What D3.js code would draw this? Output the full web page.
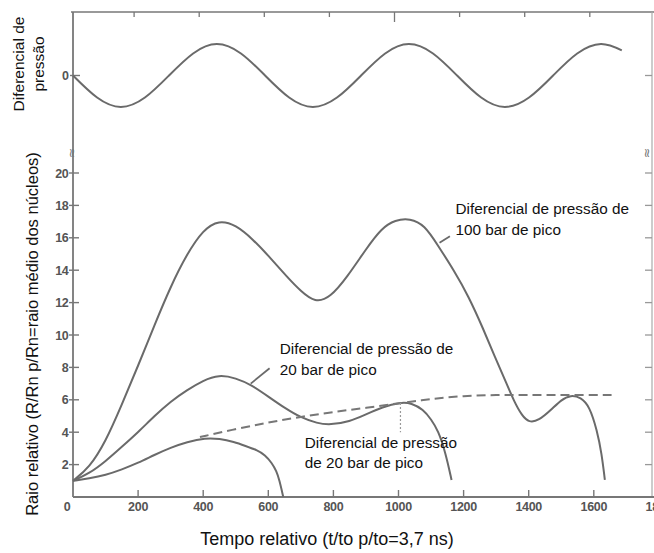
<!DOCTYPE html>
<html><head><meta charset="utf-8">
<script src="https://cdn.jsdelivr.net/npm/d3@7"></script>
<style>body{margin:0;background:#fff}svg{display:block}</style>
</head><body>
<svg id="c" width="654" height="553"></svg>
<script>
// ---- data ----
const pressT   = [0,74,147,221,295,369,442,516,590,664,737,811,885,959,1032,1106,1180,1254,1327,1401,1475,1549,1622,1686];
const pressV   = [0,-0.7,-1,-0.7,0,0.7,1,0.7,0,-0.7,-1,-0.7,0,0.7,1,0.7,0,-0.7,-1,-0.7,0,0.7,1,0.8];

const a100T = [0,50,100,150,200,250,300,350,400,448,500,553,600,657,700,744,790,843,900,948,990,1035,1080,1122,1170,1215,1260,1297,1330,1355,1380,1401,1430,1470,1500,1529,1560,1587,1610,1624,1634];
const a100V = [1,1.8,3.4,5.7,8.1,10.6,13.0,15.0,16.5,17.1,16.8,15.9,14.9,13.6,12.7,12.0,12.3,13.6,15.3,16.6,17.1,17.2,16.8,15.5,14.0,12.4,10.4,8.6,7.1,5.9,5.0,4.6,4.7,5.4,6.0,6.3,6.15,5.6,4.1,2.7,1.05];

const b20T = [0,50,100,150,200,250,300,350,400,448,500,550,600,650,700,750,790,850,900,950,1006,1040,1076,1100,1122,1145,1163];
const b20V = [1,1.45,2.2,3.1,4.0,5.0,5.9,6.6,7.2,7.55,7.35,6.9,6.2,5.5,4.9,4.55,4.45,4.65,5.1,5.55,5.85,5.8,5.4,4.8,4.1,2.7,1.05];

const c20T = [0,50,100,150,200,250,300,350,407,450,495,530,565,590,611,625,634,646];
const c20V = [1,1.15,1.35,1.7,2.1,2.6,3.05,3.4,3.65,3.6,3.4,3.15,2.9,2.6,2.1,1.6,1.05,0];

const dashT = [390,500,600,700,800,900,1006,1100,1200,1300,1400,1500,1657];
const dashV = [3.7,4.2,4.6,4.95,5.25,5.5,5.8,6.05,6.25,6.3,6.3,6.3,6.3];

const xTicks = [0,200,400,600,800,1000,1200,1400,1600,1800];
const yTicks = [2,4,6,8,10,12,14,16,18,20];

const labelA = ["Diferencial de pressão de","100 bar de pico"];
const labelB = ["Diferencial de pressão de","20 bar de pico"];
const labelC = ["Diferencial de pressão","de 20 bar de pico"];

// ---- drawing ----
const svg = d3.select("#c");
const L = 73, R = 652, TOP = 12, BOT = 497;
const x = d3.scaleLinear().domain([0,1800]).range([L, L + 1800*0.3255]);
const y = d3.scaleLinear().domain([0,20]).range([BOT, BOT - 20*16.2]);
const yp = d3.scaleLinear().domain([-1,1]).range([107,44]);

const axisCol = "#777", curveCol = "#6a6a6a";
const FONT = "Liberation Sans, Arial, sans-serif";
const g = svg.append("g");

// frame lines
g.append("line").attr("x1",L-2).attr("x2",654).attr("y1",TOP).attr("y2",TOP).attr("stroke",axisCol).attr("stroke-width",1.6);
g.append("line").attr("x1",L).attr("x2",L).attr("y1",TOP).attr("y2",BOT).attr("stroke",axisCol).attr("stroke-width",1.8);
g.append("line").attr("x1",R).attr("x2",R).attr("y1",TOP).attr("y2",BOT).attr("stroke","#aaa").attr("stroke-width",1.2);
g.append("line").attr("x1",L).attr("x2",654).attr("y1",BOT).attr("y2",BOT).attr("stroke",axisCol).attr("stroke-width",1.8);

// bottom axis ticks (inward) + labels
g.selectAll(".xt").data(xTicks.filter(d=>d>0)).join("line")
  .attr("x1",d=>x(d)).attr("x2",d=>x(d)).attr("y1",BOT).attr("y2",BOT-7)
  .attr("stroke",axisCol).attr("stroke-width",1.4);
g.selectAll(".xl").data(xTicks).join("text")
  .attr("x",d=>d===0? L-6 : x(d)).attr("y",BOT+14)
  .attr("text-anchor","middle").attr("font-family",FONT)
  .attr("font-size",12.5).attr("fill","#555").attr("font-weight","bold").attr("letter-spacing",-0.3)
  .text(d=>d);

// top axis ticks
g.selectAll(".tt").data(xTicks.filter(d=>d>0&&d<1800)).join("line")
  .attr("x1",d=>x(d)-4).attr("x2",d=>x(d)-4).attr("y1",TOP).attr("y2",d=>d===1000?TOP+10:TOP+5)
  .attr("stroke",axisCol).attr("stroke-width",1.3);

// left y ticks + labels
g.selectAll(".yt").data(yTicks).join("line")
  .attr("x1",L-4).attr("x2",L+6).attr("y1",d=>y(d)).attr("y2",d=>y(d))
  .attr("stroke",axisCol).attr("stroke-width",1.4);
g.selectAll(".yl").data(yTicks).join("text")
  .attr("x",L-5).attr("y",d=>y(d)+4.5).attr("text-anchor","end")
  .attr("font-family",FONT).attr("font-size",12.5)
  .attr("fill","#555").attr("font-weight","bold").attr("letter-spacing",-0.6)
  .text(d=>d);
// right y ticks
g.selectAll(".rt").data(yTicks).join("line")
  .attr("x1",R-7).attr("x2",R).attr("y1",d=>y(d)).attr("y2",d=>y(d))
  .attr("stroke","#999").attr("stroke-width",1.3);
g.append("line").attr("x1",R-7).attr("x2",R).attr("y1",yp(0)).attr("y2",yp(0)).attr("stroke","#999").attr("stroke-width",1.3);

// top panel zero tick & label
g.append("line").attr("x1",L-3).attr("x2",L+7).attr("y1",yp(0)).attr("y2",yp(0)).attr("stroke",axisCol).attr("stroke-width",1.4);
g.append("text").attr("x",L-4).attr("y",yp(0)+4.5).attr("text-anchor","end")
  .attr("font-family",FONT).attr("font-size",12.5).attr("fill","#555").attr("font-weight","bold").text("0");

// axis breaks
[L, R-4].forEach(px=>{
  g.append("text").attr("transform",`translate(${px},${153}) rotate(90)`)
    .attr("text-anchor","middle").attr("dy","0.35em")
    .attr("font-family","DejaVu Sans, sans-serif").attr("font-size",13).attr("fill","#777").text("≈");
});

// pressure wave
const pData = pressT.map((t,i)=>[t,pressV[i]]);
g.append("path").datum(pData)
  .attr("d", d3.line().x(d=>x(d[0])).y(d=>yp(d[1])).curve(d3.curveNatural))
  .attr("fill","none").attr("stroke",curveCol).attr("stroke-width",2);

// main curves
const line = d3.line().x(d=>x(d[0])).y(d=>y(d[1])).curve(d3.curveBasis);
const series = [[a100T,a100V],[b20T,b20V],[c20T,c20V]];
series.forEach(([T,V])=>{
  g.append("path").datum(T.map((t,i)=>[t,V[i]]))
    .attr("d",line).attr("fill","none").attr("stroke",curveCol).attr("stroke-width",2);
});
g.append("path").datum(dashT.map((t,i)=>[t,dashV[i]]))
  .attr("d",line).attr("fill","none").attr("stroke","#777").attr("stroke-width",2)
  .attr("stroke-dasharray","9,5");

// dotted vertical marker
g.append("line").attr("x1",x(1006)).attr("x2",x(1006)).attr("y1",y(5.8)).attr("y2",y(4.0))
  .attr("stroke","#999").attr("stroke-width",1.2).attr("stroke-dasharray","2,2");

// leaders
g.append("line").attr("x1",x(1126)).attr("y1",y(15.7)).attr("x2",x(1158)).attr("y2",y(16.1))
  .attr("stroke",curveCol).attr("stroke-width",1.8);
g.append("line").attr("x1",x(546)).attr("y1",y(7.0)).attr("x2",x(604)).attr("y2",y(7.95))
  .attr("stroke",curveCol).attr("stroke-width",1.8);

// labels
function lbl(lines, t, v1, v2){
  const tx = g.append("text").attr("font-family",FONT).attr("font-size",15.3).attr("fill","#111");
  tx.append("tspan").attr("x",x(t)).attr("y",y(v1)).text(lines[0]);
  tx.append("tspan").attr("x",x(t)).attr("y",y(v2)).text(lines[1]);
}
lbl(labelA, 1175, 17.45, 16.2);
lbl(labelB, 635, 8.8, 7.55);
lbl(labelC, 712, 3.05, 1.8);

// axis titles
svg.append("text").attr("x",327).attr("y",545).attr("text-anchor","middle")
  .attr("font-family","Liberation Sans Narrow, Arial Narrow, Liberation Sans, sans-serif")
  .attr("font-size",18).attr("fill","#111").text("Tempo relativo (t/to p/to=3,7 ns)");
svg.append("text").attr("transform","translate(38,334) rotate(-90)").attr("text-anchor","middle")
  .attr("font-family",FONT).attr("font-size",16.5).attr("fill","#111")
  .text("Raio relativo (R/Rn p/Rn=raio médio dos núcleos)");
svg.append("text").attr("transform","translate(24,64) rotate(-90)").attr("text-anchor","middle")
  .attr("font-family",FONT).attr("font-size",15.5).attr("fill","#111").text("Diferencial de");
svg.append("text").attr("transform","translate(44,64) rotate(-90)").attr("text-anchor","middle")
  .attr("font-family",FONT).attr("font-size",15.5).attr("fill","#111").text("pressão");
</script>
</body></html>
